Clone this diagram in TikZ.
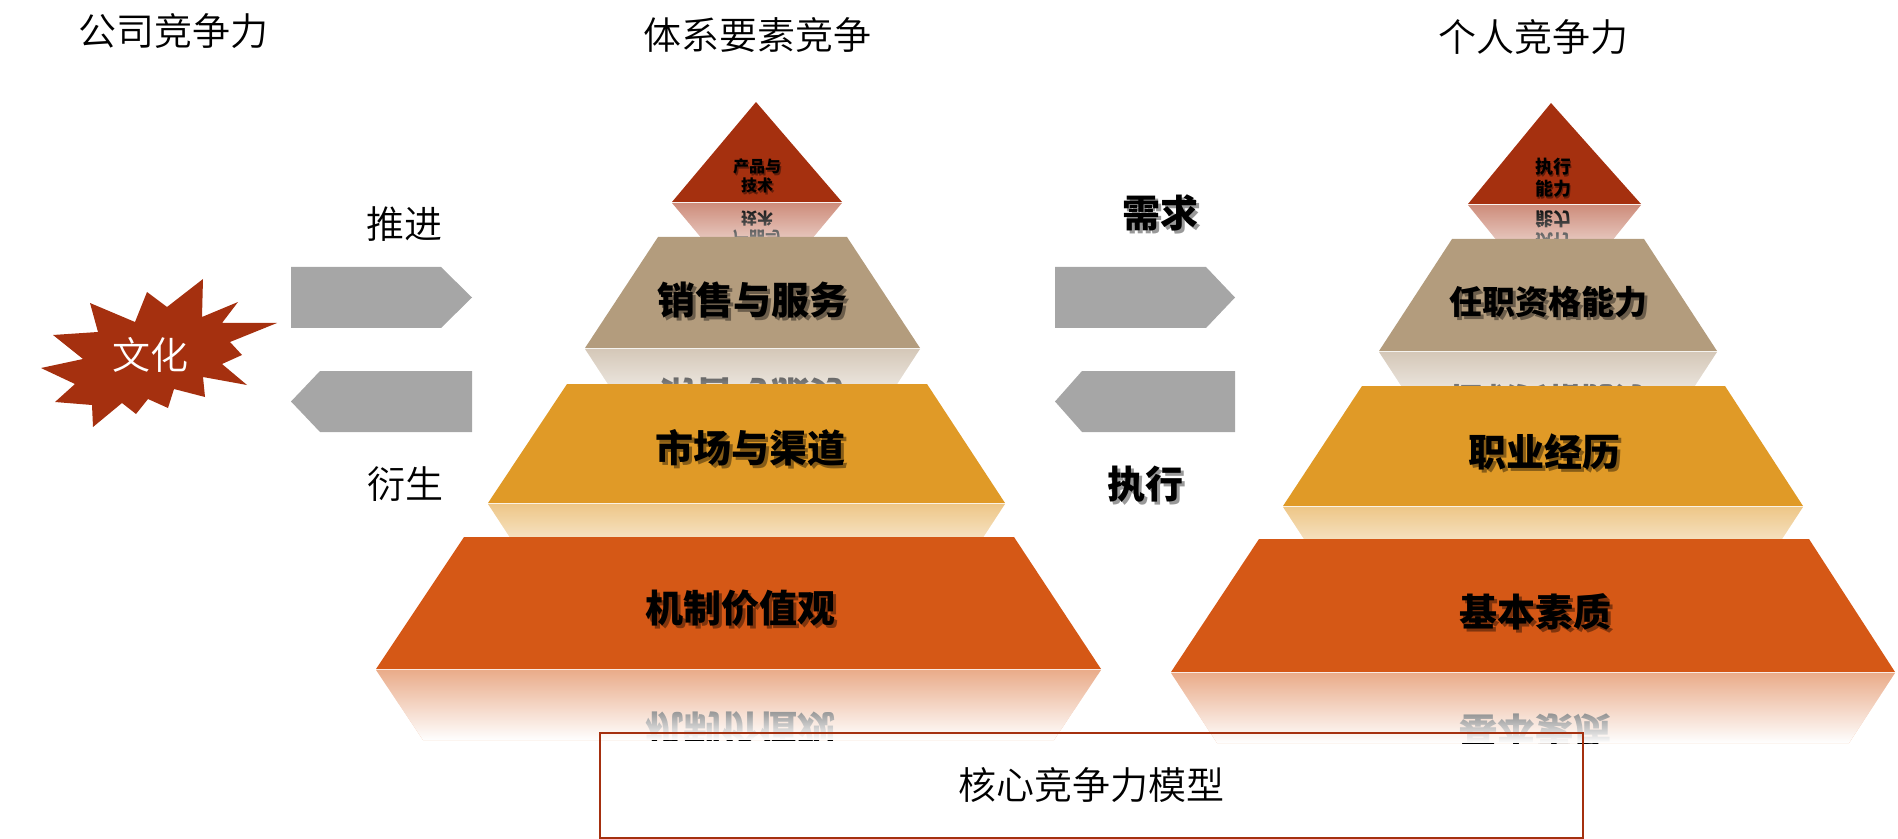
\documentclass[tikz,border=0pt]{standalone}
\usepackage{fontspec}
\IfFontExistsTF{Noto Sans CJK SC DemiLight}
  {\setmainfont{Noto Sans CJK SC DemiLight}}
  {\setmainfont{Noto Sans CJK SC}}
\IfFontExistsTF{Noto Sans CJK SC Black}
  {\newfontfamily\heavy{Noto Sans CJK SC Black}}
  {\newfontfamily\heavy{Noto Sans CJK SC}[FakeBold=1.5]}
\usetikzlibrary{fadings}
\definecolor{cRed}{HTML}{A5300F}
\definecolor{cTan}{HTML}{B39C7D}
\definecolor{cGold}{HTML}{E09A27}
\definecolor{cOrg}{HTML}{D55816}
\definecolor{cGray}{HTML}{A6A6A6}
\definecolor{cRefl}{HTML}{C4C8D0}
\tikzfading[name=fadedown, top color=transparent!100, bottom color=transparent!0]
\begin{document}
\begin{tikzpicture}[x=0.5pt,y=-0.5pt,
  every node/.style={inner sep=0pt, outer sep=0pt},
  ttl/.style={font=\fontsize{19}{19}\selectfont, text=black},
  lbl/.style={font=\heavy\fontsize{19}{19}\selectfont, text=black},
  lblsm/.style={font=\heavy\fontsize{16.5}{16.5}\selectfont, text=black},
  tiny/.style={font=\heavy\fontsize{8}{9.5}\selectfont, text=black, align=center},
  tinyr/.style={font=\heavy\fontsize{9}{11}\selectfont, text=black, align=center},
  shd/.style={text=black, opacity=0.4},
  refl/.style={text=cRefl, yscale=-1},
]
\useasboundingbox (0,0) rectangle (1898,839);

% ---------- reflections (left pyramid) ----------
\begin{scope}
  \fill[cRed!55] (672,203) -- (842,203) -- (783,273) -- (731,273) -- cycle;
  \clip (672,203) -- (842,203) -- (783,273) -- (731,273) -- cycle;
  \node[refl, tiny] (rT1a) at (757,219) {技术};
  \node[refl, tiny] (rT1b) at (757,238) {产品与};
  \fill[white, path fading=fadedown] (672,203) rectangle (842,273);
\end{scope}
\begin{scope}
  \fill[cTan!55] (585,349) -- (920,349) -- (874,419) -- (631,419) -- cycle;
  \clip (585,349) -- (920,349) -- (874,419) -- (631,419) -- cycle;
  \node[refl, lbl] (rT2) at (752,396) {销售与服务};
  \fill[white, path fading=fadedown] (585,349) rectangle (920,419);
\end{scope}
\begin{scope}
  \fill[cGold!55] (488,504) -- (1005,504) -- (959,574) -- (534,574) -- cycle;
  \clip (488,504) -- (1005,504) -- (959,574) -- (534,574) -- cycle;
  \node[refl, lbl] (rT3) at (750,558) {市场与渠道};
  \fill[white, path fading=fadedown] (488,504) rectangle (1005,574);
\end{scope}
\begin{scope}
  \fill[cOrg!50] (376,670) -- (1101,670) -- (1054,740) -- (423,740) -- cycle;
  \clip (376,670) -- (1101,670) -- (1054,740) -- (423,740) -- cycle;
  \node[refl, lbl] (rT4) at (740,730) {机制价值观};
  \fill[white, path fading=fadedown] (376,670) rectangle (1101,740);
\end{scope}

% ---------- reflections (right pyramid) ----------
\begin{scope}
  \fill[cRed!55] (1468,205) -- (1641,205) -- (1584,275) -- (1525,275) -- cycle;
  \clip (1468,205) -- (1641,205) -- (1584,275) -- (1525,275) -- cycle;
  \node[refl, tinyr] (rR1a) at (1553,219) {能力};
  \node[refl, tinyr] (rR1b) at (1553,241) {执行};
  \fill[white, path fading=fadedown] (1468,205) rectangle (1641,275);
\end{scope}
\begin{scope}
  \fill[cTan!55] (1379,352) -- (1717,352) -- (1671,422) -- (1425,422) -- cycle;
  \clip (1379,352) -- (1717,352) -- (1671,422) -- (1425,422) -- cycle;
  \node[refl, lblsm] (rR2) at (1548,400) {任职资格能力};
  \fill[white, path fading=fadedown] (1379,352) rectangle (1717,422);
\end{scope}
\begin{scope}
  \fill[cGold!55] (1283,507) -- (1803,507) -- (1757,577) -- (1329,577) -- cycle;
  \clip (1283,507) -- (1803,507) -- (1757,577) -- (1329,577) -- cycle;
  \node[refl, lbl] (rR3) at (1544,560) {职业经历};
  \fill[white, path fading=fadedown] (1283,507) rectangle (1803,577);
\end{scope}
\begin{scope}
  \fill[cOrg!50] (1171,673) -- (1895,673) -- (1849,743) -- (1217,743) -- cycle;
  \clip (1171,673) -- (1895,673) -- (1849,743) -- (1217,743) -- cycle;
  \node[refl, lbl] (rR4) at (1535,732) {基本素质};
  \fill[white, path fading=fadedown] (1171,673) rectangle (1895,743);
\end{scope}

% ---------- pyramid layers ----------
\fill[cRed]  (756,102) -- (842,202) -- (672,202) -- cycle;
\fill[cTan]  (658,237) -- (847,237) -- (920,348) -- (585,348) -- cycle;
\fill[cGold] (567,384) -- (927,384) -- (1005,503) -- (488,503) -- cycle;
\fill[cOrg]  (464,537) -- (1014,537) -- (1101,669) -- (376,669) -- cycle;

\fill[cRed]  (1551,103) -- (1641,204) -- (1468,204) -- cycle;
\fill[cTan]  (1452,239) -- (1644,239) -- (1717,351) -- (1379,351) -- cycle;
\fill[cGold] (1362,386) -- (1725,386) -- (1803,506) -- (1283,506) -- cycle;
\fill[cOrg]  (1259,539) -- (1809,539) -- (1895,672) -- (1171,672) -- cycle;

% ---------- arrows ----------
\fill[cGray] (291,267) -- (441,267) -- (472,297.5) -- (441,328) -- (291,328) -- cycle;
\fill[cGray] (291,401.5) -- (320,371) -- (472,371) -- (472,432) -- (320,432) -- cycle;
\fill[cGray] (1055,267) -- (1206,267) -- (1235,297.5) -- (1206,328) -- (1055,328) -- cycle;
\fill[cGray] (1055,401.5) -- (1082,371) -- (1235,371) -- (1235,432) -- (1082,432) -- cycle;

% ---------- star ----------
\fill[cRed] (41,368) -- (75,384) -- (55,402) -- (92,405) -- (93,427) -- (122,403)
  -- (136,414) -- (148,399) -- (168,408) -- (174,389) -- (205,397) -- (203,377)
  -- (247,385) -- (222,364) -- (242,355) -- (230,342) -- (277,323) -- (222,323)
  -- (238,302) -- (202,317) -- (203,279) -- (167,307) -- (147,292) -- (135,322)
  -- (90,303) -- (98,332) -- (53,335) -- (83,359) -- cycle;
\node[ttl, text=white] (wenhua) at (150,355) {文化};

% ---------- bottom box ----------
\draw[cRed, line width=1.3pt] (600,733) rectangle (1583,838);
\node[ttl] (model) at (1091,785) {核心竞争力模型};

% ---------- titles ----------
\node[ttl] (t1) at (173,31) {公司竞争力};
\node[ttl] (t2) at (757,35) {体系要素竞争};
\node[ttl] (t3) at (1533,37) {个人竞争力};
\node[ttl] (tuijin) at (404,224) {推进};
\node[ttl] (yansheng) at (405,484) {衍生};

% ---------- bold labels with shadow ----------
\foreach \n/\x/\y/\s/\t in {
  xq/1160/213/lbl/需求, zx/1145/484/lbl/执行,
  l2/752/300/lbl/销售与服务, l3/750/448/lbl/市场与渠道, l4/740/608/lbl/机制价值观,
  r2/1548/302/lblsm/任职资格能力, r3/1544/452/lbl/职业经历, r4/1535/612/lbl/基本素质}{
  \node[\s, shd] (\n s) at (\x+3,\y+3) {\t};
  \node[\s] (\n) at (\x,\y) {\t};
}
\node[tiny, shd] (l1s) at (758.5,177.5) {产品与\\技术};
\node[tiny] (l1) at (757,176) {产品与\\技术};
\node[tinyr, shd] (r1s) at (1554.5,179.5) {执行\\能力};
\node[tinyr] (r1) at (1553,178) {执行\\能力};
\end{tikzpicture}
\end{document}
